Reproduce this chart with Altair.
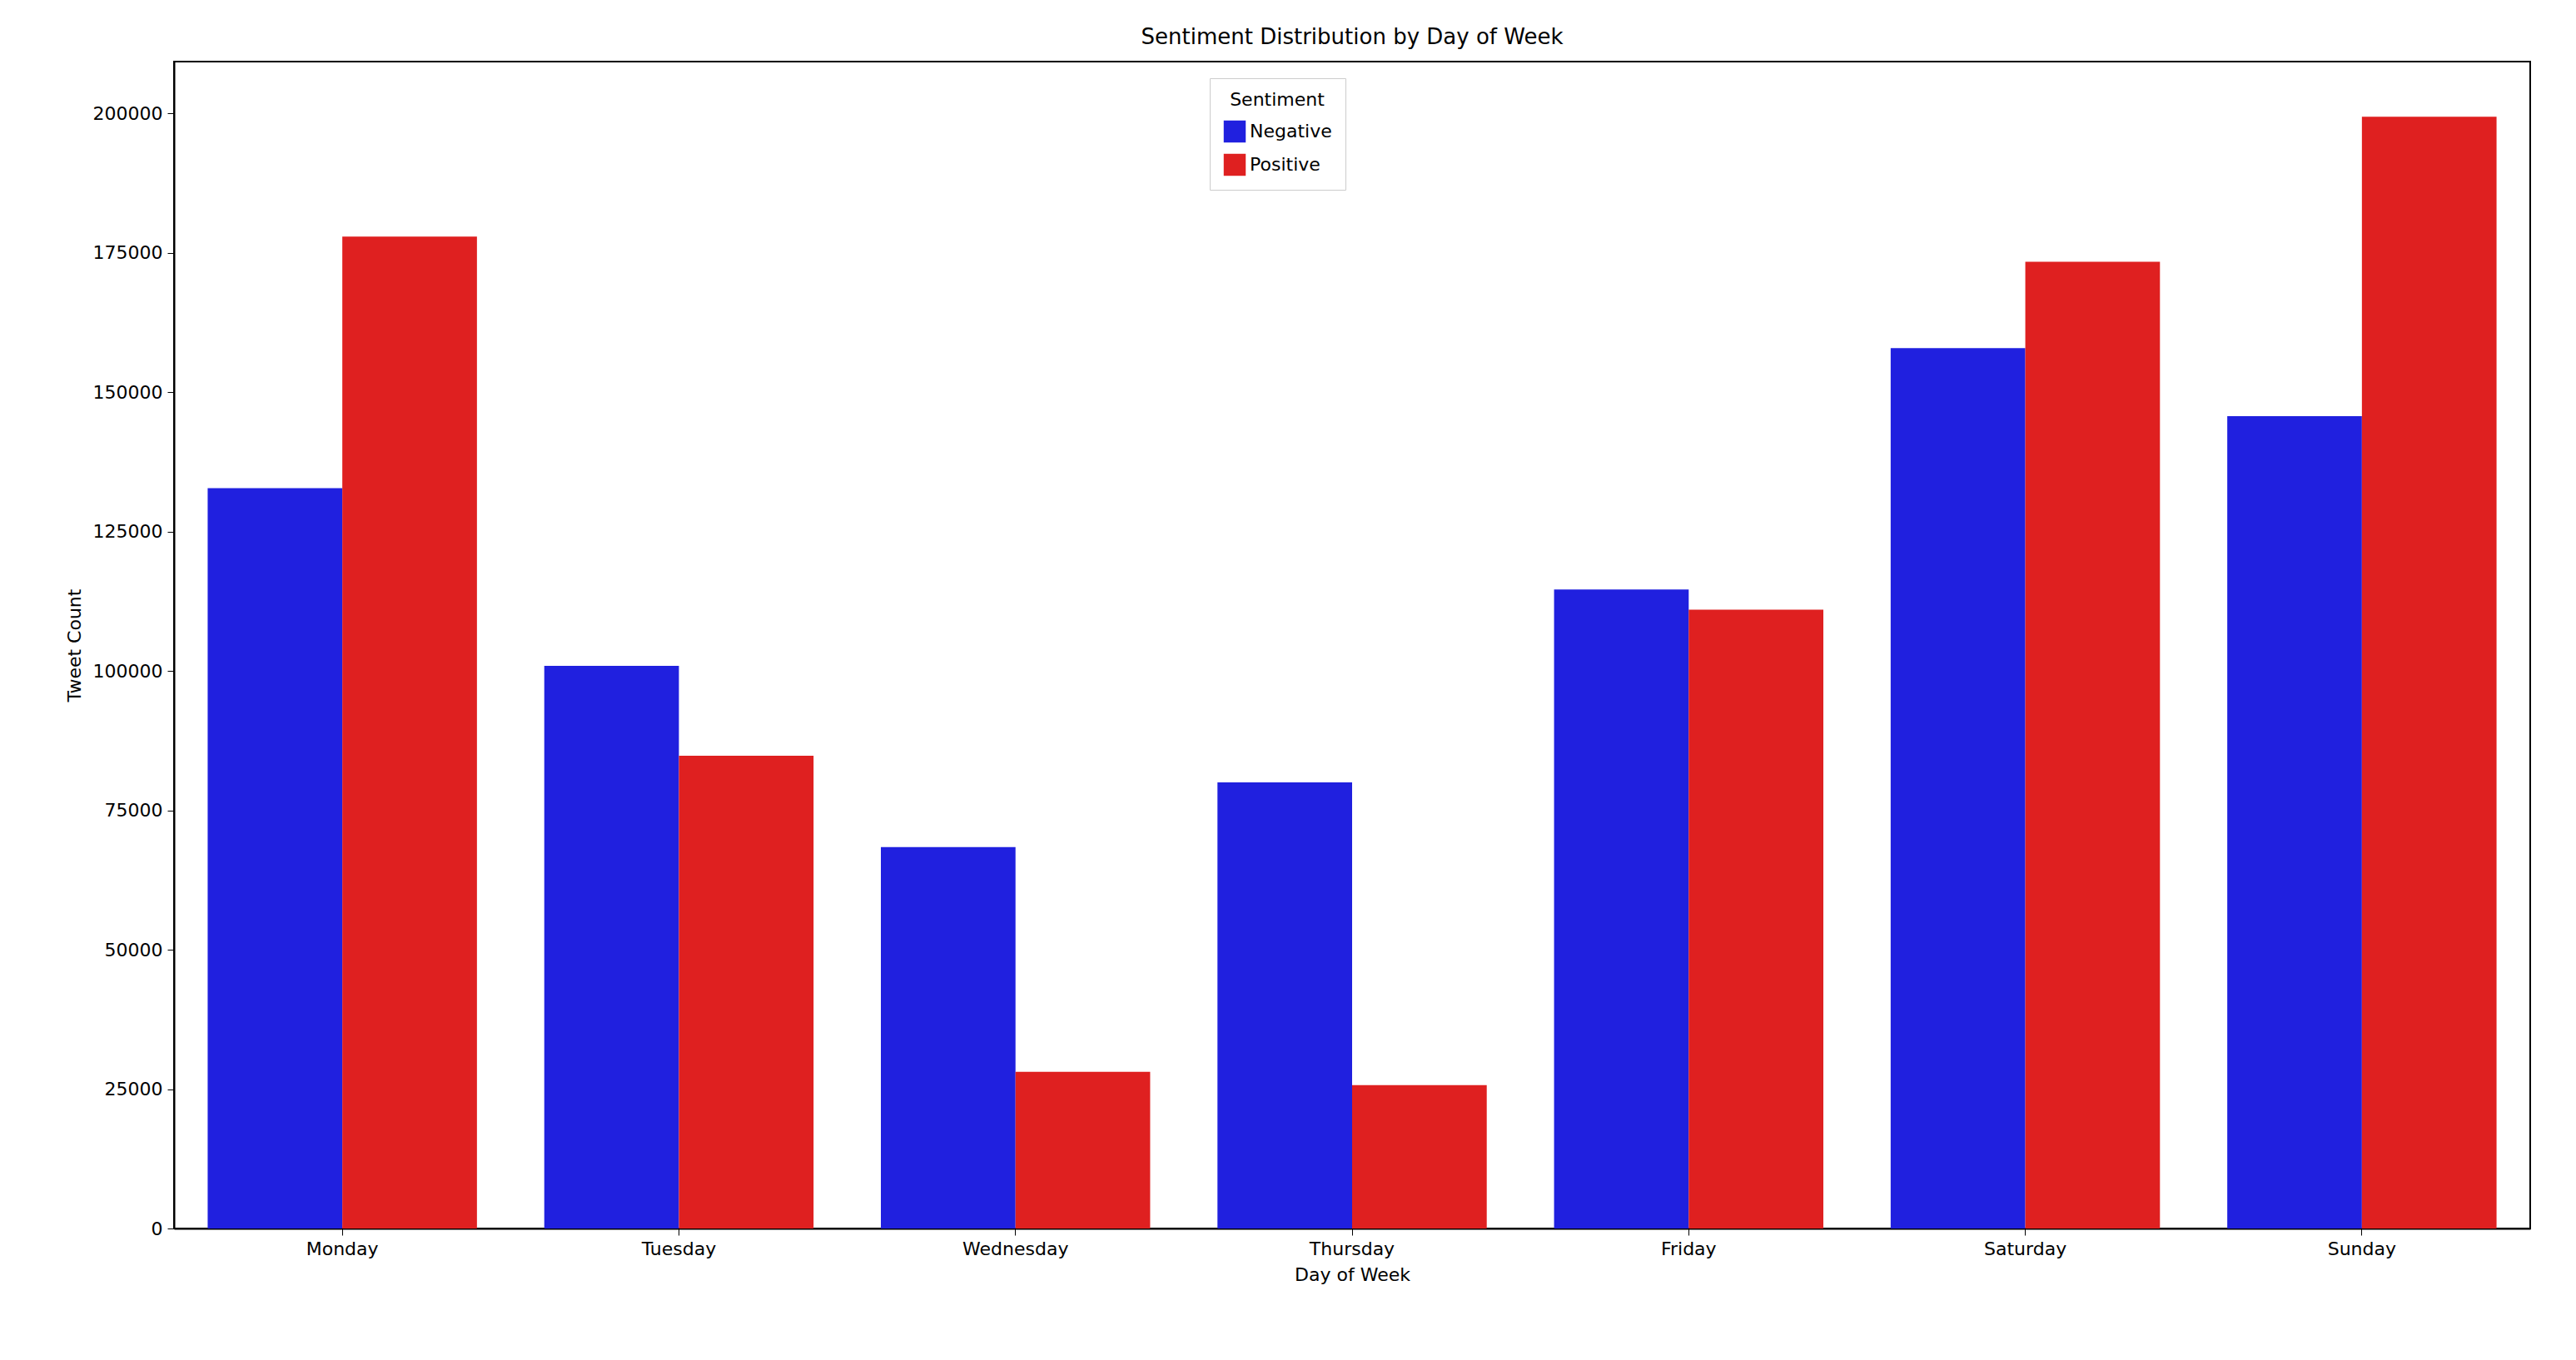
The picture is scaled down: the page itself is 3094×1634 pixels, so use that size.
import altair as alt
import pandas as pd

days = ["Monday", "Tuesday", "Wednesday", "Thursday", "Friday", "Saturday", "Sunday"]
negative = [132800, 100900, 68400, 80000, 114600, 157900, 145700]
positive = [177900, 84800, 28100, 25700, 111000, 173400, 199400]

rows = []
for d, n, p in zip(days, negative, positive):
    rows.append({"day": d, "Sentiment": "Negative", "count": n})
    rows.append({"day": d, "Sentiment": "Positive", "count": p})
source = pd.DataFrame(rows)

chart = (
    alt.Chart(source)
    .mark_bar()
    .encode(
        alt.X("day:N", sort=days, title="Day of Week",
              scale=alt.Scale(paddingInner=0.2, paddingOuter=0.1),
              axis=alt.Axis(labelAngle=0)),
        alt.XOffset("Sentiment:N", sort=["Negative", "Positive"]),
        alt.Y("count:Q", title="Tweet Count",
              scale=alt.Scale(domain=[0, 209300], nice=False),
              axis=alt.Axis(values=list(range(0, 200001, 25000)), format="d", grid=False)),
        alt.Color("Sentiment:N",
                  scale=alt.Scale(domain=["Negative", "Positive"], range=["#2020df", "#df2020"]),
                  legend=alt.Legend(orient="none", legendX=1244, legendY=20, symbolType="square",
                                    symbolSize=700, fillColor="white", strokeColor="#cccccc",
                                    padding=16, titleAnchor="middle", titleFontSize=22,
                                    labelFontSize=22, titleFontWeight="normal", rowPadding=12,
                                    titlePadding=12, labelColor="black", titleColor="black")),
    )
    .properties(width=2830, height=1402, padding={"left": 70, "top": 24, "right": 5, "bottom": 5},
                title=alt.TitleParams("Sentiment Distribution by Day of Week", fontSize=26,
                                      fontWeight="normal", offset=16, color="black"))
    .configure(font="DejaVu Sans")
    .configure_view(stroke="black", strokeWidth=2)
    .configure_axis(labelFontSize=22, titleFontSize=22, titleFontWeight="normal",
                    domainColor="black", tickColor="black", labelColor="black", titleColor="black",
                    tickSize=8, domainWidth=2, labelPadding=6, titlePadding=10)
)

chart.save("out.html", embed_options={"renderer": "svg", "actions": False})
